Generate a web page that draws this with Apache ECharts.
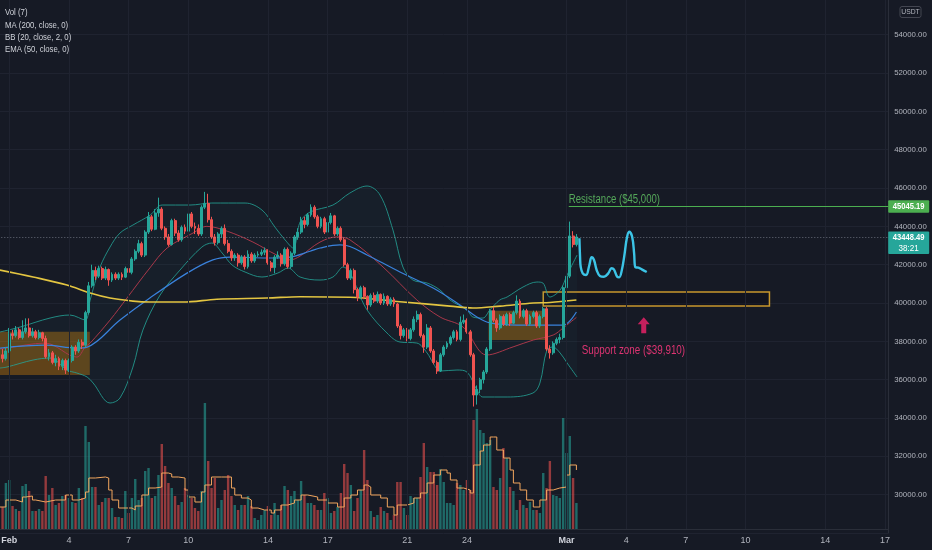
<!DOCTYPE html>
<html><head><meta charset="utf-8">
<script src="https://cdn.jsdelivr.net/npm/echarts@6/dist/echarts.min.js"></script>
<style>html,body{margin:0;padding:0;background:#161a25;overflow:hidden}#c{width:932px;height:550px}</style>
</head><body><div id="c"></div>
<script>
const FONT = "'Liberation Sans',Arial,sans-serif";
// 4h bars counted from Feb 1 00:00
const firstBar = -2;
// [open, close, low, high]
const candles = [
[37300,37100,36900,37600],[37100,37500,37000,37700],[37500,38400,37400,38700],[38400,38300,38100,38600],[38300,38600,38200,38800],
[38600,38200,38100,38700],[38200,38500,38100,39100],[38500,38700,38400,39200],[38700,38300,38200,39200],[38300,38500,38200,38700],
[38500,38200,38100,38600],[38200,38450,38100,38600],[38450,38150,38000,38500],[38150,37200,37100,38300],[37200,37400,37000,37600],
[37400,36900,36800,37500],[36900,37100,36700,37300],[37100,36700,36500,37200],[36700,37000,36500,37100],[37000,36500,36300,37100],
[36500,37000,36400,37100],[37000,37700,36900,37800],[37700,37500,37300,37800],[37500,37950,37400,38100],[37950,37800,37600,38100],
[37800,39500,37700,39600],[39500,40900,39400,41100],[40900,41700,40800,42000],[41700,41400,41200,41900],[41400,41800,41300,41950],
[41800,41300,41200,41900],[41300,41750,41200,41900],[41750,41200,40900,41800],[41200,41500,41100,41600],[41500,41300,41200,41600],
[41300,41500,41200,41600],[41500,41350,41200,41600],[41350,41800,41300,41900],[41800,41600,41400,41900],[41600,42300,41500,42400],
[42300,42700,42200,42800],[42700,43100,42600,43300],[43100,42500,42400,43200],[42500,43700,42400,43800],[43700,44500,43600,44750],
[44500,43850,43750,44600],[43850,44700,43800,44900],[44700,44900,44500,45500],[44900,43900,43800,45000],[43900,43450,43300,44000],
[43450,43050,42950,43600],[43050,44300,43000,44400],[44300,43650,43500,44400],[43650,43300,43200,43800],[43300,43950,43200,44050],
[43950,43750,43600,44100],[43750,44650,43700,44800],[44650,44000,43900,44750],[44000,43900,43600,44200],[43900,43600,43500,44100],
[43600,45000,43500,45100],[45000,45200,44900,45800],[45200,44350,44200,45700],[44350,43450,43350,44500],[43450,43150,43000,43600],
[43150,43600,43050,43700],[43600,43900,43400,44000],[43900,43100,43000,44100],[43100,42700,42600,43300],[42700,42350,42200,42800],
[42350,42500,42200,42600],[42500,42100,41900,42600],[42100,42400,42000,42500],[42400,41900,41750,42500],[41900,42550,41800,42750],
[42550,42200,42100,42650],[42200,42500,42100,42600],[42500,42550,42400,42700],[42550,42650,42450,42800],[42650,42750,42500,42900],
[42750,42100,42000,42800],[42100,41850,41650,42200],[41850,42400,41550,42500],[42400,42500,42300,42700],[42500,42050,41900,42600],
[42050,42800,41950,42900],[42800,41900,41800,42900],[41900,42600,41800,42700],[42600,43450,42500,43550],[43450,43700,43300,43900],
[43700,44300,43600,44500],[44300,44100,43900,44500],[44100,44600,44000,44700],[44600,45000,44500,45150],[45000,44500,44400,45100],
[44500,44000,43900,44600],[44000,44400,43900,44500],[44400,43700,43600,44500],[43700,44200,43600,44300],[44200,44550,44100,44700],
[44550,43600,43500,44600],[43600,43900,43500,44000],[43900,43300,43200,44000],[43300,42000,41900,43400],[42000,41300,41200,42100],
[41300,41700,41200,41800],[41700,40700,40500,41800],[40700,40300,40100,40800],[40300,40800,40200,40900],[40800,40350,40200,40900],
[40350,39900,39650,40400],[39900,40400,39800,40500],[40400,40100,40000,40550],[40100,40450,40000,40600],[40450,40000,39900,40500],
[40000,40350,39900,40500],[40350,39950,39850,40400],[39950,40200,39850,40300],[40200,39950,39800,40300],[39950,38800,38700,40000],
[38800,38300,38100,38900],[38300,38600,38200,38700],[38600,38150,38000,38700],[38150,38600,38050,38700],[38600,39150,38500,39300],
[39150,39400,39000,39600],[39400,38300,38200,39500],[38300,37700,37400,38400],[37700,38700,37600,38900],[38700,37500,37400,38800],
[37500,36900,36800,37600],[36900,36450,36300,37000],[36450,37300,36400,37400],[37300,37700,37200,37800],[37700,37900,37600,38000],
[37900,38200,37800,38300],[38200,38500,38100,38600],[38500,38100,38000,38600],[38100,39000,38000,39300],[39000,39100,38900,39400],
[39100,38500,38400,39200],[38500,37300,37200,38600],[37300,35200,34600,37400],[35200,35500,34700,35700],[35500,36000,35300,36100],
[36000,36400,35800,36500],[36400,37600,36300,37700],[37600,39600,37500,39700],[39600,39100,39000,39800],[39100,38700,38500,39200],
[38700,39300,38600,39400],[39300,38900,38800,39400],[38900,39400,38800,39500],[39400,38950,38800,39500],[38950,39500,38900,39600],
[39500,40100,39400,40400],[40100,39300,39200,40200],[39300,39600,39200,39700],[39600,38900,38800,39700],[38900,39300,38800,39400],
[39300,39500,39200,39600],[39500,38800,38700,39600],[38800,39300,38700,39400],[39300,39700,39200,39800],[39700,37600,37500,39800],
[37600,37400,37100,37800],[37400,37900,37300,38000],[37900,38100,37800,38200],[38100,38200,37900,38400],[38200,40800,38100,40900],
[40800,41400,40700,41500],[41400,43500,41300,44250],[43500,43050,42900,43750],[43050,43448.49,42950,43600]
];
const volumes = [22,46,49,23,20,18,43,45,38,18,18,20,18,53,34,41,24,26,33,34,31,27,26,41,31,103,87,42,42,24,
27,31,31,21,12,12,11,38,16,31,50,29,31,58,61,31,33,54,85,63,46,41,33,24,27,41,34,31,21,18,
38,126,68,41,51,21,29,39,54,33,24,19,24,24,33,23,11,9,14,19,23,14,26,14,24,43,39,33,38,29,
48,34,26,26,24,19,19,36,31,16,18,22,36,65,56,44,18,31,39,79,49,18,12,14,22,18,16,9,14,47,
47,21,14,33,31,31,52,86,62,57,57,44,60,47,26,26,24,46,44,39,49,39,109,120,99,96,86,89,42,39,
51,81,71,42,38,19,29,24,21,27,19,19,16,56,41,68,34,33,31,111,76,93,51,26];
const volMA = [[-3,22],[-1,29],[2,27],[4,32],[5,33],[7,29],[8,27],[11,29],[14,29],[17,34],[19,29],[21,31],[23,37],[24,51],[26,52],
[29,51],[30,39],[31,29],[33,21],[35,21],[37,19],[38,23],[40,34],[42,41],[44,42],[46,56],[48,55],[49,52],[51,51],[53,39],[54,32],
[56,27],[58,37],[59,44],[61,52],[64,52],[66,52],[67,41],[68,34],[70,31],[72,29],[73,21],[75,19],[77,19],[79,16],[80,19],[82,24],
[84,26],[86,29],[88,34],[90,32],[93,29],[96,26],[99,22],[101,31],[103,34],[105,39],[107,44],[108,42],[109,34],[112,31],[114,22],
[116,14],[117,24],[120,26],[122,31],[124,36],[126,46],[128,54],[130,59],[132,56],[133,49],[135,41],[137,39],[139,36],[140,64],
[142,78],[143,84],[145,92],[146,92],[147,79],[149,71],[151,59],[152,46],[154,39],[156,29],[158,22],[160,29],[162,39],[164,41],
[166,42],[168,54],[169,64],[171,59]];
const ma200 = [[-2.8,41720],[7.2,41360],[17.4,40940],[24.4,40520],[30.4,40260],[37.3,40100],[42.4,40050],[52.4,40050],[62.6,40200],
[77.7,40260],[87.7,40330],[102.7,40300],[117.8,40070],[132.9,39840],[139.8,39740],[148,39840],[158,40000],[163,40030],[171,40160]];
const ema50 = [[-2.8,37650],[10.8,37800],[20.4,37650],[23.5,37700],[33.4,39110],[42.4,40260],[53.6,41560],[61.4,42250],[66.6,42400],
[77.7,42350],[84.7,42400],[90.7,42700],[93.7,42870],[99.7,43030],[102.7,42950],[107.9,42510],[117.8,41620],[127.8,40780],
[135.9,39900],[141,39270],[145,38960],[153,38850],[162,38850],[167,38850],[171,39530]];
const bbBasis = [[-2.8,37600],[-0.7,37650],[10.8,37910],[20.4,37180],[22.9,37700],[24.4,37910],[30.4,39110],[35.5,40260],[42.4,41830],
[47.6,42870],[55.4,43650],[59.6,44000],[65.7,43750],[73.5,43180],[80.7,42500],[84.7,42250],[87.7,42450],[93.7,43180],[98.8,43450],
[102.7,43300],[112.7,41880],[122.9,40160],[129.9,39270],[136.8,38750],[144,37290],[151.9,37710],[158,38070],[164,38330],[167,38700],[171,39250]];
const bbUpper = [[-2.8,38487],[3.3,38748],[12.3,39217],[18.3,39374],[22.9,39113],[24.4,40157],[27.4,41879],[30.4,42922],[33.4,43653],
[37.3,44070],[42.5,44592],[46.1,45114],[54.5,45114],[61.1,45218],[71.1,45218],[76.2,44853],[80.1,43966],[83.2,43288],[85.6,42870],
[87.7,44226],[90.7,44748],[97.6,45114],[102.7,45740],[107.9,46105],[111.8,45636],[115.7,43809],[118.7,41879],[121.7,41200],
[126,41044],[129.9,40678],[132.9,40157],[138,39635],[139.8,39270],[142.8,39217],[144.9,39635],[147.9,40157],[150.1,40313],
[154.9,40835],[159.1,41096],[160.9,41044],[163,40313],[166.1,40678],[168.2,41461],[171.2,42505]];
const bbLower = [[-2.8,36608],[-0.7,36661],[7.2,37026],[12.3,37130],[17.4,36504],[20.4,36347],[23.5,36139],[25.3,35826],[30.4,34782],
[33.4,35043],[37.3,36661],[40.3,38591],[45.5,40417],[51.5,41722],[58.1,42922],[61.1,43131],[64.2,42610],[67.2,41983],[71.1,41618],
[76.2,41357],[81,41566],[84.1,41827],[87.7,41357],[93.7,41200],[97.6,41357],[100.6,41879],[107.9,39635],[113.9,38435],[117.8,37965],
[122.9,37912],[126,37391],[127.8,36869],[129.9,36452],[135,36504],[138,36400],[141,35461],[142.8,35096],[150.1,35096],[157.9,35304],
[160,35826],[162.1,37547],[163.9,37704],[166.1,37391],[168.2,36869],[171.2,36139]];
const projection = [[171.9,43376],[172.1,42416],[172.3,41894],[172.9,41550],[173.9,41461],[174.9,41983],[175.6,42385],[176.3,42244],
[177.1,41722],[178.1,41409],[179.3,41372],[180.6,41550],[181.6,41811],[182.3,41758],[183.3,41372],[183.9,41341],[184.7,41722],
[185.4,42416],[186.2,43376],[186.9,43720],[187.8,43460],[188.4,42594],[188.8,41863],[189.7,41842],[190.7,41758],[192.2,41618]];
const tickBars = [0,18,36,54,78,96,120,138,168,186,204,222,246,264];
const tickLabels = ['Feb','4','7','10','14','17','21','24','Mar','4','7','10','14','17'];
const monthLabels = ['Feb','Mar'];
const legendLines = ['Vol (7)','MA (200, close, 0)','BB (20, close, 2, 0)','EMA (50, close, 0)'];
const lastPrice = 43448.49;
const lastTimer = '38:21';
const resistancePrice = 45045.19;
const resistanceStart = 168.7;
const resistanceText = 'Resistance ($45,000)';
const supportZone = [161, 229.2, 39850, 40580];
const supportText = 'Support zone ($39,910)';
const supportTextAt = [172.6, 37500];
const arrowAt = [191.3, 38840];
const orangeBoxes = [[-6, 24.3, 36243, 38500], [144.5, 162.3, 38070, 39600]];

const UP = '#26a69a', DOWN = '#ef5350';
const tickMap = {}; tickBars.forEach((b, i) => { tickMap[b] = tickLabels[i]; });
const kline = candles.map((c, i) => [firstBar + i, c[0], c[1], c[2], c[3]]);
const volData = volumes.map((v, i) => ({
  value: [firstBar + i, v],
  itemStyle: { color: candles[i][1] >= candles[i][0] ? 'rgba(38,166,154,0.58)' : 'rgba(239,83,80,0.58)' }
}));

const chart = echarts.init(document.getElementById('c'));
const lineS = (data, color, width, z) => ({
  type: 'line', xAxisIndex: 0, yAxisIndex: 0, data, symbol: 'none', smooth: 0.35, silent: true, z,
  lineStyle: { color, width }
});

chart.setOption({
  backgroundColor: '#161a25',
  animation: false,
  grid: [
    { left: -10.7, right: 43.8, top: -3.6, bottom: 17, outerBoundsMode: 'none', containLabel: false },
    { left: -10.7, right: 43.8, top: 0, bottom: 21, outerBoundsMode: 'none', containLabel: false }
  ],
  xAxis: [
    { type: 'value', gridIndex: 0, min: -6, max: 265, interval: 6, show: false },
    { type: 'value', gridIndex: 1, min: -6, max: 265, interval: 6,
      axisLine: { show: true, onZero: false, lineStyle: { color: '#2a2e39' } }, axisTick: { show: false }, splitLine: { show: false },
      axisLabel: {
        margin: 7, color: '#b2b5be', fontSize: 9, fontFamily: FONT,
        formatter: v => { const t = tickMap[v]; if (t === undefined) return ''; return monthLabels.includes(t) ? '{m|' + t + '}' : t; },
        rich: { m: { fontWeight: 'bold', color: '#d1d4dc', fontSize: 9, fontFamily: FONT } }
      } }
  ],
  yAxis: [
    { type: 'value', gridIndex: 0, position: 'right', min: 28000, max: 56000, interval: 2000,
      axisLine: { show: true, onZero: false, lineStyle: { color: '#2a2e39' } }, axisTick: { show: false },
      splitLine: { lineStyle: { color: '#1f2330' } },
      axisLabel: { showMinLabel: false, showMaxLabel: false, formatter: v => v.toFixed(2), color: '#b2b5be', fontSize: 7.8, fontFamily: FONT, margin: 6 } },
    { type: 'value', gridIndex: 1, min: 0, max: 529, show: false }
  ],
  series: [
    { type: 'custom', xAxisIndex: 0, yAxisIndex: 0, z: 1, silent: true, clip: true,
      data: [bbUpper[0]],
      renderItem: (params, api) => {
        const pts = bbUpper.map(p => api.coord(p)).concat(bbLower.slice().reverse().map(p => api.coord(p)));
        return { type: 'polygon', shape: { points: pts }, style: { fill: 'rgba(38,166,154,0.045)' } };
      } },
    { type: 'bar', xAxisIndex: 1, yAxisIndex: 1, data: volData, barWidth: 2.4, z: 1, silent: true,
      markLine: { silent: true, symbol: ['none', 'none'], label: { show: false },
        lineStyle: { color: '#1f2330', width: 1, type: 'solid' },
        data: tickBars.map(b => ({ xAxis: b })) } },
    { type: 'line', xAxisIndex: 1, yAxisIndex: 1, data: volMA, step: 'end', symbol: 'none', silent: true, z: 2,
      lineStyle: { color: '#f2a65e', width: 1 } },
    lineS(bbUpper, 'rgba(38,166,154,0.8)', 1, 2),
    lineS(bbLower, 'rgba(38,166,154,0.8)', 1, 2),
    lineS(bbBasis, '#a8384a', 1, 2),
    lineS(ema50, '#3a82dc', 1.2, 2),
    lineS(ma200, '#e3c541', 1.6, 2),
    { type: 'candlestick', xAxisIndex: 0, yAxisIndex: 0, data: kline, barWidth: 2.4, z: 3, silent: true,
      itemStyle: { color: UP, color0: DOWN, borderColor: UP, borderColor0: DOWN, borderWidth: 1 },
      markLine: { silent: true, symbol: ['none', 'none'], label: { show: false },
        lineStyle: { color: 'rgba(170,175,190,0.55)', width: 1, type: [1, 2] },
        data: [{ yAxis: lastPrice }] },
      markArea: { silent: true,
        itemStyle: { color: 'rgba(8,10,16,0.35)', borderColor: '#c8972c', borderWidth: 1.5 },
        data: [[{ xAxis: supportZone[0], yAxis: supportZone[2] }, { xAxis: supportZone[1], yAxis: supportZone[3] }]] } },
    { type: 'line', xAxisIndex: 0, yAxisIndex: 0, data: [[resistanceStart, resistancePrice]], symbol: 'none', z: 4, silent: true,
      lineStyle: { width: 0 },
      markArea: { silent: true, itemStyle: { color: 'rgba(255,152,0,0.32)' },
        data: orangeBoxes.map(b => [{ xAxis: b[0], yAxis: b[2] }, { xAxis: b[1], yAxis: b[3] }]) },
      markLine: { silent: true, symbol: ['none', 'none'], label: { show: false },
        lineStyle: { color: '#4caf50', width: 1, type: 'solid' },
        data: [[{ coord: [resistanceStart, resistancePrice] }, { coord: [265, resistancePrice] }]] } },
    { type: 'line', xAxisIndex: 0, yAxisIndex: 0, data: projection, symbol: 'none', smooth: 0.4, z: 6, silent: true,
      lineStyle: { color: '#3cc4e6', width: 2.4 } },
    { type: 'scatter', xAxisIndex: 0, yAxisIndex: 0, data: [arrowAt], z: 6, silent: true,
      symbol: 'path://M6,0 L12,7 L8.5,7 L8.5,16 L3.5,16 L3.5,7 L0,7 Z', symbolSize: [12, 16],
      itemStyle: { color: '#f2226c' } }
  ]
});

const yRes = chart.convertToPixel({ yAxisIndex: 0 }, resistancePrice);
const yLast = chart.convertToPixel({ yAxisIndex: 0 }, lastPrice);
const axisX = chart.convertToPixel({ xAxisIndex: 0 }, 265);
const resPt = chart.convertToPixel({ gridIndex: 0 }, [resistanceStart, resistancePrice]);
const supPt = chart.convertToPixel({ gridIndex: 0 }, supportTextAt);
const gfx = legendLines.map((t, i) => ({
  type: 'text', x: 5, y: 12.5 + i * 12.4, scaleX: 0.82, silent: true, z: 100,
  style: { text: t, fill: '#cfd2d9', fontSize: 9.5, fontFamily: FONT, align: 'left', verticalAlign: 'middle' }
}));
gfx.push(
  { type: 'text', x: resPt[0], y: resPt[1] - 1, scaleX: 0.8, silent: true, z: 100,
    style: { text: resistanceText, fill: '#55a85a', fontSize: 12, fontFamily: FONT, align: 'left', verticalAlign: 'bottom' } },
  { type: 'text', x: supPt[0], y: supPt[1], scaleX: 0.82, silent: true, z: 100,
    style: { text: supportText, fill: '#de3472', fontSize: 12, fontFamily: FONT, align: 'left', verticalAlign: 'middle' } },
  { type: 'rect', shape: { x: 900, y: 6.5, width: 21, height: 11, r: 2 }, style: { fill: '#161a25', stroke: '#434651', lineWidth: 1 }, silent: true, z: 100 },
  { type: 'text', x: 910.5, y: 12, scaleX: 0.85, style: { text: 'USDT', fill: '#b2b5be', fontSize: 8, fontFamily: FONT, align: 'center', verticalAlign: 'middle' }, silent: true, z: 101 },
  { type: 'rect', shape: { x: axisX, y: yRes - 6, width: 41, height: 12.5, r: 1 }, style: { fill: '#4caf50' }, silent: true, z: 100 },
  { type: 'text', x: axisX + 20.5, y: yRes + 0.3, scaleX: 0.8, style: { text: resistancePrice.toFixed(2), fill: '#ffffff', fontSize: 9.5, fontWeight: 'bold', fontFamily: FONT, align: 'center', verticalAlign: 'middle' }, silent: true, z: 101 },
  { type: 'rect', shape: { x: axisX, y: yLast - 5.5, width: 41, height: 22.5, r: 1 }, style: { fill: '#26a69a' }, silent: true, z: 100 },
  { type: 'text', x: axisX + 20.5, y: yLast + 0.8, scaleX: 0.8, style: { text: lastPrice.toFixed(2), fill: '#ffffff', fontSize: 9.5, fontWeight: 'bold', fontFamily: FONT, align: 'center', verticalAlign: 'middle' }, silent: true, z: 101 },
  { type: 'text', x: axisX + 20.5, y: yLast + 11, scaleX: 0.85, style: { text: lastTimer, fill: '#ffffff', fontSize: 9.5, fontFamily: FONT, align: 'center', verticalAlign: 'middle' }, silent: true, z: 101 }
);
chart.setOption({ graphic: gfx });
</script>
</body></html>
